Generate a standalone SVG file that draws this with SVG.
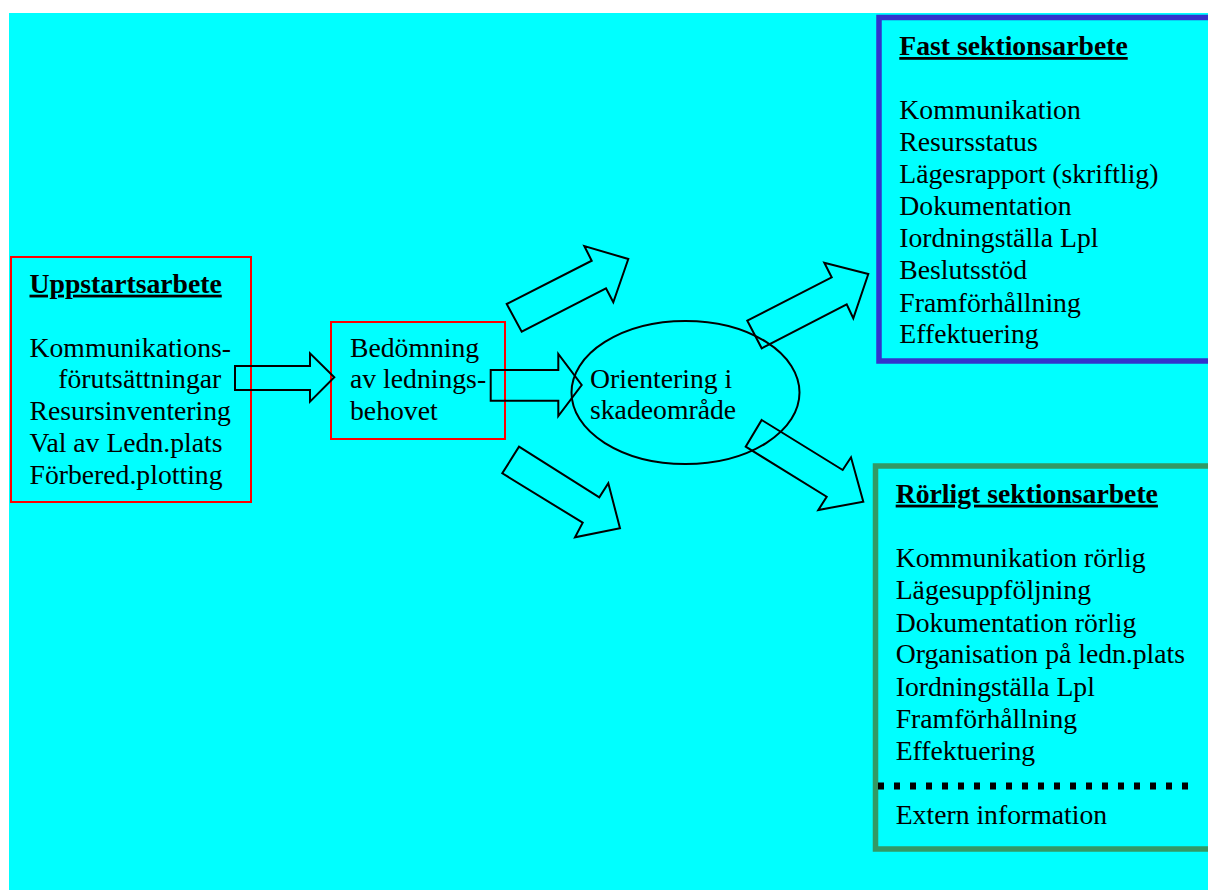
<svg xmlns="http://www.w3.org/2000/svg" width="1208" height="890" viewBox="0 0 1208 890">
<style>
text{font-family:"Liberation Serif","Times New Roman",serif;font-size:27.7px;fill:#000}
.t{font-weight:bold;text-decoration:underline}
.red{fill:none;stroke:#FF0000;stroke-width:2}
.arr{fill:none;stroke:#000;stroke-width:2;stroke-linejoin:miter}
</style>
<rect x="9" y="13" width="1199" height="877" fill="#00FFFF"/>
<g id="uppstart">
<rect class="red" x="11" y="257" width="240" height="245"/>
<text class="t" x="29.5" y="292.7">Uppstartsarbete</text>
<text x="29.5" y="356.7">Kommunikations-</text>
<text x="58.3" y="388.3">förutsättningar</text>
<text x="29.5" y="419.8">Resursinventering</text>
<text x="29.5" y="452">Val av Ledn.plats</text>
<text x="29.5" y="483.5">Förbered.plotting</text>
</g>
<g id="bedomning">
<rect class="red" x="331" y="322" width="174" height="117"/>
<text x="350" y="356.7">Bedömning</text>
<text x="350" y="388">av lednings-</text>
<text x="350" y="420">behovet</text>
</g>
<g id="orientering">
<ellipse cx="685.5" cy="392.5" rx="114" ry="71.5" fill="none" stroke="#000" stroke-width="2"/>
<text x="590" y="387.7">Orientering i</text>
<text x="590" y="419">skadeområde</text>
</g>
<g id="fast">
<rect x="879" y="17.5" width="340" height="343.5" fill="none" stroke="#3333CC" stroke-width="5.5"/>
<text class="t" x="899.3" y="55">Fast sektionsarbete</text>
<text x="899.3" y="119.3">Kommunikation</text>
<text x="899.3" y="150.7">Resursstatus</text>
<text x="899.3" y="182.7">Lägesrapport (skriftlig)</text>
<text x="899.3" y="215">Dokumentation</text>
<text x="899.3" y="246.7">Iordningställa Lpl</text>
<text x="899.3" y="279.3">Beslutsstöd</text>
<text x="899.3" y="311.7">Framförhållning</text>
<text x="899.3" y="343.3">Effektuering</text>
</g>
<g id="rorligt">
<rect x="875.5" y="466" width="340" height="383" fill="none" stroke="#339966" stroke-width="5.5"/>
<text class="t" x="895.7" y="502.7">Rörligt sektionsarbete</text>
<text x="895.7" y="566.7">Kommunikation rörlig</text>
<text x="895.7" y="599">Lägesuppföljning</text>
<text x="895.7" y="631.7">Dokumentation rörlig</text>
<text x="895.7" y="663.3">Organisation på ledn.plats</text>
<text x="895.7" y="696">Iordningställa Lpl</text>
<text x="895.7" y="727.7">Framförhållning</text>
<text x="895.7" y="760">Effektuering</text>
<line x1="878" y1="786" x2="1190" y2="786" stroke="#000" stroke-width="7" stroke-dasharray="6 10"/>
<text x="895.7" y="824">Extern information</text>
</g>
<g id="connectors">
<polygon class="arr" points="235,366 310,366 310,353.3 334.3,377.3 310,401.7 310,390 235,390"/>
<polygon class="arr" points="490.7,370 558.3,370 558.3,354 581.7,385 558.3,416 558.3,400.7 490.7,400.7"/>
<polygon class="arr" points="506.7,304 591.7,260.7 584.3,246 628.3,259 613.3,302.3 606,288.3 521.7,331.7"/>
<polygon class="arr" points="519,446.7 599.3,497.3 608.3,483.3 620,528.3 575,537.3 582.7,522.7 502.3,473.3"/>
<polygon class="arr" points="747.3,320.7 831.7,277.3 824.3,262.7 868.3,274 853.3,318.3 846.7,304.3 761.7,348.3"/>
<polygon class="arr" points="761.7,420 842.7,470 851,457.3 863.3,501.7 818.3,510 826.7,496.7 745.7,446.7"/>
</g>
</svg>
